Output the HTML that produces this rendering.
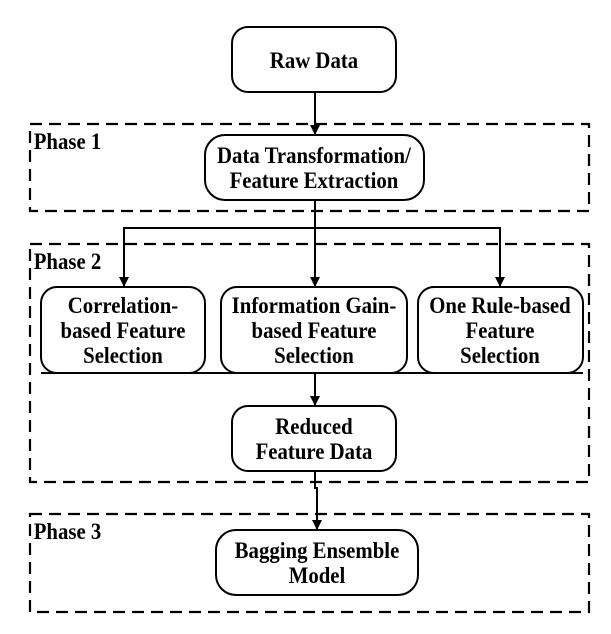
<!DOCTYPE html>
<html><head><meta charset="utf-8"><style>
html,body{margin:0;padding:0;background:#fff;}
svg{display:block;}
text{font-family:"Liberation Serif",serif;font-weight:bold;font-size:20px;fill:#000;transform-box:fill-box;transform-origin:center;transform:scale(1.04,1.18);}
</style></head><body>
<svg width="611" height="634" viewBox="0 0 611 634" xmlns="http://www.w3.org/2000/svg">
<defs><marker id="a" markerWidth="10" markerHeight="10" refX="9" refY="5" orient="auto" markerUnits="userSpaceOnUse"><path d="M0,0 L10,5 L0,10 z" fill="#000"/></marker></defs>
<g fill="none" stroke="#000" stroke-width="2.2" stroke-dasharray="12,7">
<rect x="30" y="124" width="559" height="87"/>
<rect x="30" y="244" width="559" height="238"/>
<rect x="30" y="514" width="559" height="98"/>
</g>
<text x="35" y="148">Phase 1</text>
<text x="35" y="268">Phase 2</text>
<text x="35" y="538">Phase 3</text>
<g fill="none" stroke="#000" stroke-width="2">
<line x1="41" y1="373" x2="583" y2="373"/>
<line x1="315" y1="92" x2="315" y2="134" marker-end="url(#a)"/>
<line x1="315" y1="200" x2="315" y2="286" marker-end="url(#a)"/>
<polyline points="124,286 124,228 500,228 500,286" marker-end="url(#a)"/>
<line x1="124" y1="240" x2="124" y2="286" marker-end="url(#a)"/>
<line x1="315" y1="373" x2="315" y2="405" marker-end="url(#a)"/>
<polyline points="315,471 315,488 317,488 317,529" marker-end="url(#a)"/>
</g>
<g fill="#fff" stroke="#000" stroke-width="2">
<rect x="232" y="27" width="164" height="65" rx="16"/>
<rect x="205" y="135" width="219" height="65" rx="20"/>
<rect x="41" y="287" width="164" height="86" rx="16"/>
<rect x="221" y="287" width="186" height="86" rx="16"/>
<rect x="418" y="287" width="165" height="86" rx="16"/>
<rect x="232" y="406" width="164" height="65" rx="16"/>
<rect x="216" y="530" width="202" height="65" rx="20"/>
</g>
<g text-anchor="middle">
<text x="314" y="67">Raw Data</text>
<text x="314" y="162">Data Transformation/</text>
<text x="314" y="187">Feature Extraction</text>
<text x="123" y="312">Correlation-</text>
<text x="123" y="337">based Feature</text>
<text x="123" y="362">Selection</text>
<text x="314" y="312">Information Gain-</text>
<text x="314" y="337">based Feature</text>
<text x="314" y="362">Selection</text>
<text x="500" y="312">One Rule-based</text>
<text x="500" y="337">Feature</text>
<text x="500" y="362">Selection</text>
<text x="314" y="433">Reduced</text>
<text x="314" y="458">Feature Data</text>
<text x="317" y="557">Bagging Ensemble</text>
<text x="317" y="582">Model</text>
</g>
</svg>
</body></html>
